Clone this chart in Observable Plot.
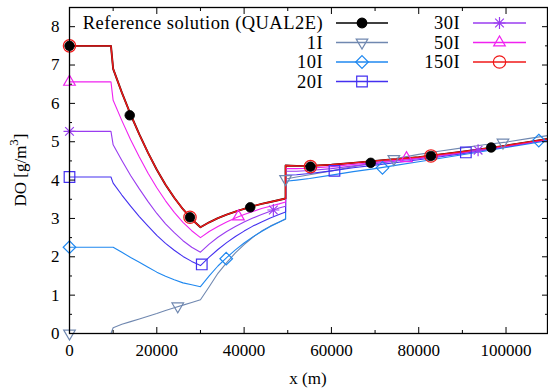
<!DOCTYPE html>
<html>
<head>
<meta charset="utf-8">
<script src="https://cdn.jsdelivr.net/npm/d3@7"></script>
<script src="https://cdn.jsdelivr.net/npm/@observablehq/plot@0.6"></script>
<style>
  html, body { margin: 0; padding: 0; background: #fff; }
  #chart svg, #chart svg text { font-family: "Liberation Serif", "Times New Roman", serif; }
</style>
</head>
<body>
<div id="chart"></div>
<script>
// Distance along the river (m) for the simulated DO profiles
const riverX = [0, 9500, 10000, 12000, 14000, 16000, 18000, 20000, 22000, 24000, 26000, 28000, 30000,
  32000, 34000, 36000, 38000, 40000, 42000, 44000, 46000, 48000, 49500,
  49500, 52000, 55000, 60000, 65000, 70000, 75000, 80000, 85000, 90000, 95000, 100000, 105000, 109500];

// Dissolved oxygen (g/m3) for each run
const do1I = [0, 0, 0.15, 0.24, 0.31, 0.38, 0.45, 0.52, 0.60, 0.67, 0.74, 0.81, 0.88,
  1.22, 1.57, 1.85, 2.10, 2.32, 2.51, 2.67, 2.80, 2.91, 2.98,
  4.03, 4.08, 4.14, 4.24, 4.35, 4.46, 4.57, 4.67, 4.76, 4.84, 4.92, 4.99, 5.08, 5.16];
const do10I = [2.25, 2.25, 2.25, 2.12, 1.98, 1.86, 1.73, 1.60, 1.49, 1.40, 1.32, 1.27, 1.22,
  1.50, 1.76, 1.98, 2.18, 2.36, 2.52, 2.66, 2.79, 2.90, 2.99,
  3.97, 4.00, 4.04, 4.13, 4.22, 4.30, 4.39, 4.48, 4.57, 4.66, 4.75, 4.85, 4.94, 5.03];
const do20I = [4.08, 4.08, 3.92, 3.61, 3.32, 3.05, 2.80, 2.56, 2.35, 2.17, 2.01, 1.88, 1.77,
  1.99, 2.19, 2.37, 2.53, 2.67, 2.80, 2.91, 3.01, 3.10, 3.17,
  4.13, 4.14, 4.17, 4.24, 4.32, 4.39, 4.46, 4.53, 4.61, 4.69, 4.78, 4.87, 4.96, 5.05];
const do30I = [5.27, 5.27, 4.92, 4.51, 4.12, 3.77, 3.44, 3.13, 2.86, 2.63, 2.42, 2.25, 2.12,
  2.33, 2.51, 2.66, 2.79, 2.91, 3.01, 3.10, 3.19, 3.27, 3.32,
  4.23, 4.23, 4.25, 4.30, 4.37, 4.43, 4.50, 4.56, 4.63, 4.71, 4.80, 4.88, 4.97, 5.06];
const do50I = [6.56, 6.56, 6.08, 5.55, 5.05, 4.60, 4.18, 3.80, 3.46, 3.16, 2.90, 2.68, 2.50,
  2.66, 2.79, 2.91, 3.01, 3.10, 3.18, 3.26, 3.32, 3.38, 3.43,
  4.30, 4.30, 4.31, 4.35, 4.41, 4.46, 4.52, 4.58, 4.65, 4.72, 4.81, 4.89, 4.98, 5.06];
const do150I = [7.50, 7.50, 6.90, 6.28, 5.71, 5.19, 4.71, 4.27, 3.88, 3.54, 3.24, 2.98, 2.77,
  2.90, 3.01, 3.10, 3.18, 3.25, 3.32, 3.38, 3.43, 3.48, 3.52,
  4.38, 4.37, 4.37, 4.40, 4.45, 4.50, 4.55, 4.60, 4.67, 4.74, 4.82, 4.90, 4.99, 5.07];

// Point markers along each profile
const refPtX = [0, 13800, 27600, 41400, 55200, 69000, 82800, 96600];
const refPtY = [7.50, 5.69, 3.03, 3.29, 4.35, 4.45, 4.63, 4.85];
const pt1IX = [0, 24800, 49500, 74300, 99300];
const pt1IY = [0, 0.71, 4.03, 4.55, 4.98];
const pt10IX = [0, 35900, 71700, 107500];
const pt10IY = [2.25, 1.95, 4.32, 5.03];
const pt20IX = [0, 30300, 60700, 90800];
const pt20IY = [4.08, 1.80, 4.24, 4.72];
const pt30IX = [0, 46700, 93600];
const pt30IY = [5.27, 3.22, 4.78];
const pt50IX = [0, 38700, 77200];
const pt50IY = [6.56, 3.05, 4.57];
const pt150IX = [0, 27600, 55200, 82800];
const pt150IY = [7.50, 3.03, 4.35, 4.63];

// Axis ticks
const xMajor = [0, 20000, 40000, 60000, 80000, 100000];
const xMinor = [10000, 30000, 50000, 70000, 90000];
const yMajor = [0, 1, 2, 3, 4, 5, 6, 7, 8];
const yMinor = [0.5, 1.5, 2.5, 3.5, 4.5, 5.5, 6.5, 7.5];

const serif = "'Liberation Serif', 'Times New Roman', serif";

// Point symbols (r is the half-width of the symbol)
const rOf = size => Math.sqrt(size / Math.PI);
const symTriDown = {draw(c, size) { const s = rOf(size), h = 1.72 * s;
  c.moveTo(-s, -h / 3); c.lineTo(s, -h / 3); c.lineTo(0, 2 * h / 3); c.closePath(); }};
const symTriUp = {draw(c, size) { const s = rOf(size), h = 1.72 * s;
  c.moveTo(-s, h / 3); c.lineTo(s, h / 3); c.lineTo(0, -2 * h / 3); c.closePath(); }};
const symDiamond = {draw(c, size) { const s = rOf(size);
  c.moveTo(0, -s); c.lineTo(s, 0); c.lineTo(0, s); c.lineTo(-s, 0); c.closePath(); }};
const symSquare = {draw(c, size) { const s = rOf(size);
  c.moveTo(-s, -s); c.lineTo(s, -s); c.lineTo(s, s); c.lineTo(-s, s); c.closePath(); }};
const symStar = {draw(c, size) { const s = rOf(size), d = s * 0.72;
  c.moveTo(-s, 0); c.lineTo(s, 0); c.moveTo(0, -s); c.lineTo(0, s);
  c.moveTo(-d, -d); c.lineTo(d, d); c.moveTo(-d, d); c.lineTo(d, -d); }};
const symCircle = {draw(c, size) { const s = rOf(size);
  c.moveTo(s, 0); c.arc(0, 0, s, 0, 2 * Math.PI); }};

const series = [
  {name: "1I", y: do1I, px: pt1IX, py: pt1IY, color: "#7088b0", sym: symTriDown, r: 5.8, w: 1.1},
  {name: "10I", y: do10I, px: pt10IX, py: pt10IY, color: "#1f88f0", sym: symDiamond, r: 6.3, w: 1.1},
  {name: "20I", y: do20I, px: pt20IX, py: pt20IY, color: "#4430f0", sym: symSquare, r: 5.3, w: 1.1},
  {name: "30I", y: do30I, px: pt30IX, py: pt30IY, color: "#9a3cf0", sym: symStar, r: 6, w: 1.1},
  {name: "50I", y: do50I, px: pt50IX, py: pt50IY, color: "#f022f0", sym: symTriUp, r: 5.8, w: 1.1},
  {name: "150I", y: do150I, px: pt150IX, py: pt150IY, color: "#f01818", sym: symCircle, r: 6.2, w: 1.4}
];

const rowsOf = (xs, ys) => xs.map((x, i) => ({x, y: ys[i]}));

const marks = [];
// reference profile follows the finest run; drawn underneath it
marks.push(Plot.line(rowsOf(riverX, do150I), {x: "x", y: "y", stroke: "#300", strokeWidth: 1.9}));
for (const s of series) {
  marks.push(Plot.line(rowsOf(riverX, s.y), {x: "x", y: "y", stroke: s.color, strokeWidth: s.w}));
}
marks.push(Plot.dot(rowsOf(refPtX, refPtY), {x: "x", y: "y", r: 4.8, fill: "black", stroke: "black", strokeWidth: 0.8, symbol: symCircle}));
for (const s of series) {
  marks.push(Plot.dot(rowsOf(s.px, s.py), {x: "x", y: "y", r: s.r, symbol: s.sym, fill: "none", stroke: s.color, strokeWidth: 1.2}));
}

// Axes with gnuplot-style inward ticks on all four sides
const axes = [
  Plot.axisX({anchor: "bottom", ticks: xMajor, tickSize: 0, tickPadding: 10, tickFormat: "d", label: null, fontFamily: serif, fontSize: 17}),
  Plot.axisY({anchor: "left", ticks: yMajor, tickSize: 0, tickPadding: 10, tickFormat: "d", label: null, fontFamily: serif, fontSize: 17}),
  Plot.axisX({anchor: "bottom", ticks: xMajor, tickSize: -6, fill: "none", label: null}),
  Plot.axisX({anchor: "bottom", ticks: xMinor, tickSize: -3, fill: "none", label: null}),
  Plot.axisX({anchor: "top", ticks: xMajor, tickSize: -6, fill: "none", label: null}),
  Plot.axisX({anchor: "top", ticks: xMinor, tickSize: -3, fill: "none", label: null}),
  Plot.axisY({anchor: "left", ticks: yMajor, tickSize: -6, fill: "none", label: null}),
  Plot.axisY({anchor: "left", ticks: yMinor, tickSize: -3, fill: "none", label: null}),
  Plot.axisY({anchor: "right", ticks: yMajor, tickSize: -6, fill: "none", label: null}),
  Plot.axisY({anchor: "right", ticks: yMinor, tickSize: -3, fill: "none", label: null}),
  Plot.frame({stroke: "black", strokeWidth: 1.3})
];

const chart = Plot.plot({
  width: 548,
  height: 391,
  marginLeft: 69,
  marginRight: 1,
  marginTop: 7,
  marginBottom: 58,
  style: {fontFamily: serif, fontSize: "17px", background: "#fff", color: "black"},
  x: {domain: [0, 109500], axis: null},
  y: {domain: [0, 8.5], axis: null},
  marks: [...marks, ...axes]
});

const svg = d3.select(chart);

// Axis titles
svg.append("text")
  .attr("x", 308).attr("y", 384)
  .attr("text-anchor", "middle")
  .attr("font-size", 17)
  .attr("fill", "black")
  .text("x (m)");
const yTitle = svg.append("text")
  .attr("transform", "translate(26,170) rotate(-90)")
  .attr("text-anchor", "middle")
  .attr("font-size", 17)
  .attr("fill", "black");
yTitle.append("tspan").text("DO [g/m");
yTitle.append("tspan").attr("dy", -8).attr("font-size", 13).text("3");
yTitle.append("tspan").attr("dy", 8).text("]");

// Legend, two columns in the upper part of the frame
const legendRows = [
  {label: "Reference solution (QUAL2E)", color: "black", sym: symCircle, r: 4.8, filled: true, col: 0, row: 0},
  {label: "1I", ...series[0], col: 0, row: 1},
  {label: "10I", ...series[1], col: 0, row: 2},
  {label: "20I", ...series[2], col: 0, row: 3},
  {label: "30I", ...series[3], col: 1, row: 0},
  {label: "50I", ...series[4], col: 1, row: 1},
  {label: "150I", ...series[5], col: 1, row: 2}
];
const colText = [323, 460];
const colLine = [[336, 388], [473, 526]];
const legend = svg.append("g").attr("font-size", 18.5).attr("letter-spacing", 0.45);
for (const e of legendRows) {
  const y = 23 + e.row * 19.5;
  const [x1, x2] = colLine[e.col];
  legend.append("text")
    .attr("x", colText[e.col]).attr("y", y).attr("dy", "0.34em")
    .attr("text-anchor", "end").attr("fill", "black")
    .text(e.label);
  legend.append("line")
    .attr("x1", x1).attr("x2", x2).attr("y1", y).attr("y2", y)
    .attr("stroke", e.color).attr("stroke-width", 1.3);
  legend.append("path")
    .attr("transform", `translate(${(x1 + x2) / 2},${y})`)
    .attr("d", d3.symbol(e.sym, Math.PI * e.r * e.r)())
    .attr("fill", e.filled ? e.color : "none")
    .attr("stroke", e.color).attr("stroke-width", 1.2);
}

svg.selectAll("text").attr("font-family", serif);

document.getElementById("chart").appendChild(chart);
</script>
</body>
</html>
